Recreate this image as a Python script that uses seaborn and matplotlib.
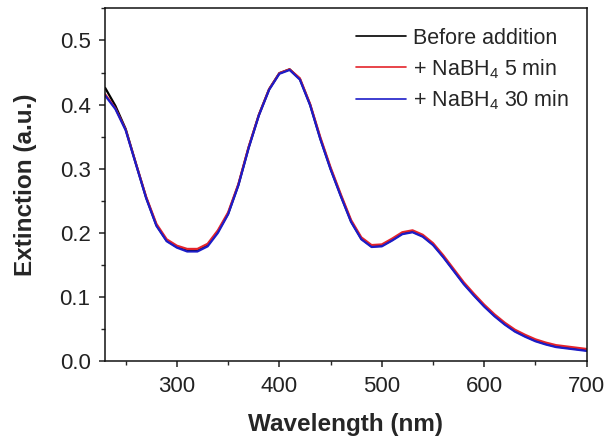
import numpy as np
import pandas as pd
import matplotlib
matplotlib.use("Agg")
import matplotlib.pyplot as plt
from matplotlib.ticker import MultipleLocator, FormatStrFormatter
import seaborn as sns

wavelength = list(range(230, 701, 10))

before = [0.426, 0.398, 0.362, 0.308, 0.255, 0.212, 0.188, 0.178, 0.173, 0.173,
          0.181, 0.202, 0.230, 0.275, 0.333, 0.384, 0.424, 0.449, 0.455, 0.440,
          0.400, 0.347, 0.300, 0.258, 0.218, 0.191, 0.179, 0.180, 0.189, 0.199,
          0.202, 0.195, 0.182, 0.163, 0.142, 0.121, 0.103, 0.086, 0.071, 0.058,
          0.047, 0.039, 0.032, 0.027, 0.023, 0.021, 0.019, 0.017]

nabh4_5 = [0.416, 0.394, 0.361, 0.308, 0.256, 0.214, 0.190, 0.180, 0.175, 0.175,
           0.183, 0.204, 0.232, 0.276, 0.334, 0.384, 0.424, 0.449, 0.455, 0.441,
           0.401, 0.349, 0.302, 0.260, 0.220, 0.193, 0.181, 0.182, 0.191, 0.201,
           0.204, 0.197, 0.184, 0.165, 0.144, 0.123, 0.105, 0.088, 0.073, 0.060,
           0.049, 0.041, 0.034, 0.029, 0.025, 0.023, 0.021, 0.019]

nabh4_30 = [0.414, 0.393, 0.360, 0.307, 0.254, 0.211, 0.187, 0.177, 0.171, 0.171,
            0.179, 0.200, 0.229, 0.274, 0.332, 0.383, 0.423, 0.448, 0.454, 0.439,
            0.399, 0.346, 0.299, 0.257, 0.217, 0.190, 0.178, 0.179, 0.188, 0.198,
            0.201, 0.194, 0.181, 0.162, 0.141, 0.120, 0.102, 0.085, 0.070, 0.057,
            0.046, 0.038, 0.031, 0.026, 0.022, 0.020, 0.018, 0.016]

series_names = ["Before addition", r"+ NaBH$_4$ 5 min", r"+ NaBH$_4$ 30 min"]
series_colors = ["#000000", "#e4242b", "#1c1cc8"]

df = pd.concat([
    pd.DataFrame({"Wavelength": wavelength, "Extinction": vals, "Series": name})
    for name, vals in zip(series_names, [before, nabh4_5, nabh4_30])
], ignore_index=True)

sns.set_theme(style="ticks")
plt.rcParams["font.family"] = ["Liberation Sans", "DejaVu Sans"]
plt.rcParams["mathtext.default"] = "regular"

fig = plt.figure(figsize=(6.08, 4.41), dpi=100)
ax = fig.add_axes([0.173, 0.181, 0.792, 0.800])

sns.lineplot(data=df, x="Wavelength", y="Extinction", hue="Series",
             palette=dict(zip(series_names, series_colors)), hue_order=series_names,
             linewidth=1.6, ax=ax, sort=False)

ax.set_xlim(230, 700)
ax.set_ylim(0, 0.55)
ax.xaxis.set_major_locator(MultipleLocator(100))
ax.xaxis.set_minor_locator(MultipleLocator(50))
ax.yaxis.set_major_locator(MultipleLocator(0.1))
ax.yaxis.set_minor_locator(MultipleLocator(0.05))
ax.yaxis.set_major_formatter(FormatStrFormatter("%.1f"))

ax.tick_params(axis="both", which="major", direction="out", length=4.5, width=1.1,
               labelsize=16, colors="#222222", top=False, right=False, pad=6)
ax.tick_params(axis="both", which="minor", direction="out", length=3, width=1.0,
               top=False, right=False)
for s in ax.spines.values():
    s.set_visible(True)
    s.set_color("#111111")
    s.set_linewidth(1.1)

ax.set_xlabel("Wavelength (nm)", fontsize=17.5, fontweight="bold", labelpad=12)
ax.set_ylabel("Extinction (a.u.)", fontsize=17.5, fontweight="bold", labelpad=16)

leg = ax.legend(loc="upper right", frameon=False, fontsize=15.5,
                handlelength=2.33, handletextpad=0.33, labelspacing=0.38,
                borderaxespad=0.0, borderpad=0.0, bbox_to_anchor=(0.963, 0.945))
for line in leg.get_lines():
    line.set_linewidth(1.2)

fig.savefig("out.png", dpi=100)
